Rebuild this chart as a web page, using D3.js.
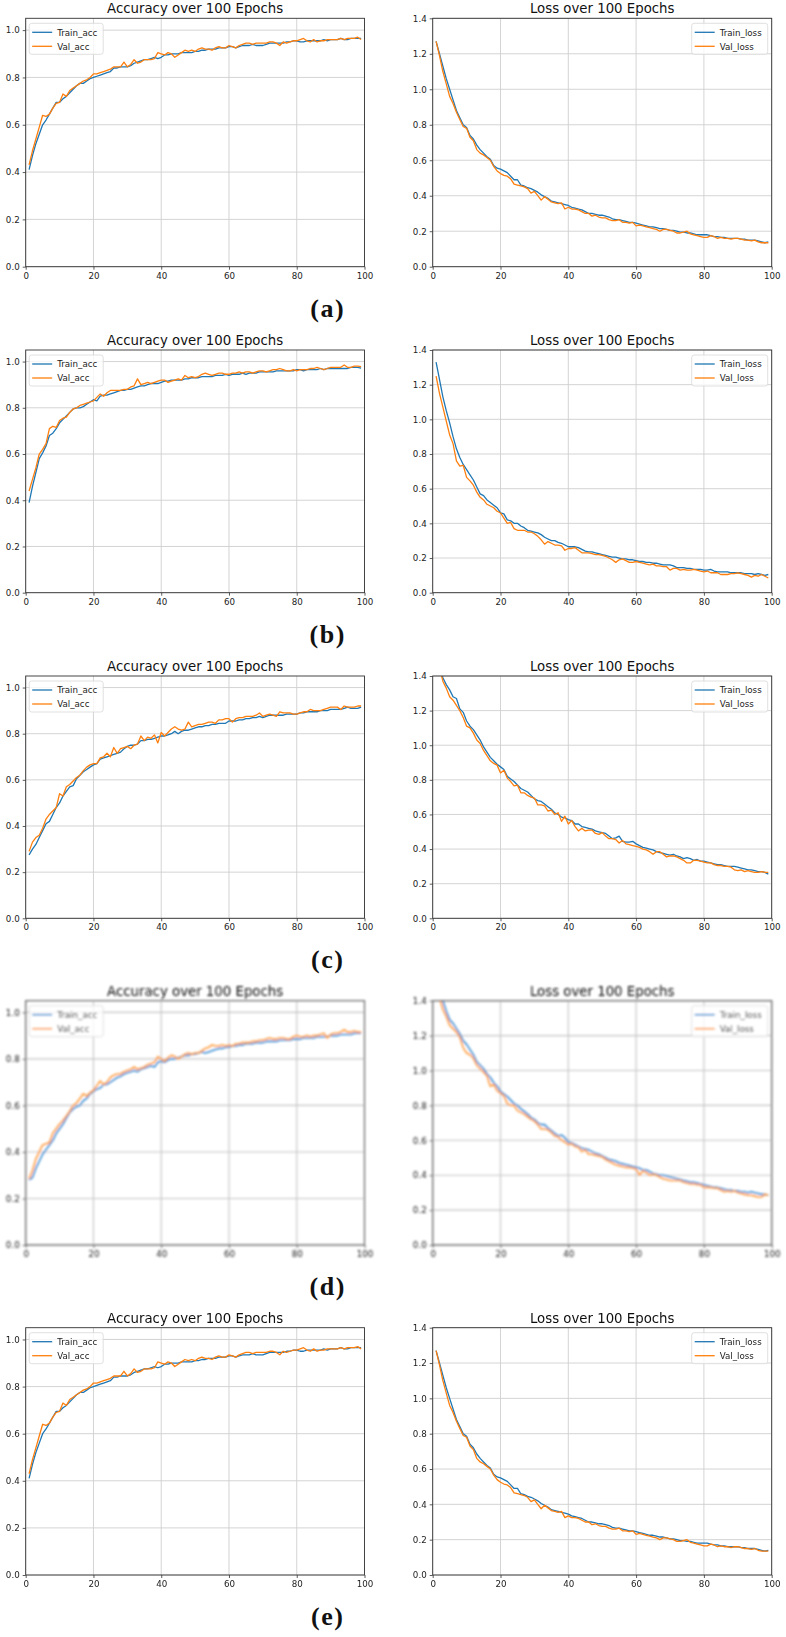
<!DOCTYPE html>
<html lang="en">
<head>
<meta charset="utf-8">
<title>Accuracy and Loss over 100 Epochs</title>
<script src="https://cdn.jsdelivr.net/npm/d3@7"></script>
<style>
  body { margin: 0; background: #fff; }
  svg { display: block; font-family: "DejaVu Sans", sans-serif; }
  .grid line { stroke: #cfcfcf; stroke-width: 0.9; }
  .axis .domain { display: none; }
  .axis .tick line { stroke: #333; stroke-width: 0.8; }
  .axis .tick text { fill: #222; font-size: 8.7px; font-family: "DejaVu Sans", sans-serif; }
  .spine { fill: none; stroke: #333; stroke-width: 0.9; }
  .soft .spine { stroke: #666; stroke-width: 1.2; }
  .soft .grid line { stroke: #c4c4c4; stroke-width: 1.1; }
  .title { font-size: 13.3px; fill: #111; text-anchor: middle; }
  .legend-box { fill: #fff; fill-opacity: 0.8; stroke: #d8d8d8; stroke-width: 0.8; }
  .legend text { font-size: 8.7px; fill: #222; }
  .tag { font-family: "Liberation Serif", "Times New Roman", serif; font-weight: bold; font-size: 26px; letter-spacing: 1.5px; fill: #111; text-anchor: middle; }
</style>
</head>
<body>
<div id="chart"></div>
<script>
// epochs on the x axis
var epochs = d3.range(1, 100);

var accTicks = [0.0, 0.2, 0.4, 0.6, 0.8, 1.0];
var lossTicks = [0.0, 0.2, 0.4, 0.6, 0.8, 1.0, 1.2, 1.4];
var epochTicks = [0, 20, 40, 60, 80, 100];

// (a) and (e)
var trainAccA = [0.41,0.47,0.52,0.56,0.60,0.62,0.645,0.67,0.695,0.695,
  0.71,0.72,0.735,0.75,0.765,0.775,0.775,0.785,0.795,0.80,
  0.805,0.81,0.815,0.82,0.825,0.84,0.84,0.845,0.845,0.845,
  0.85,0.86,0.865,0.87,0.875,0.875,0.88,0.885,0.88,0.885,
  0.895,0.895,0.90,0.90,0.90,0.905,0.905,0.905,0.905,0.91,
  0.91,0.915,0.915,0.92,0.92,0.92,0.925,0.925,0.925,0.93,
  0.93,0.925,0.93,0.935,0.935,0.935,0.94,0.935,0.935,0.935,
  0.94,0.945,0.945,0.945,0.945,0.945,0.95,0.95,0.955,0.955,
  0.95,0.95,0.955,0.955,0.955,0.955,0.955,0.96,0.955,0.96,
  0.96,0.96,0.965,0.96,0.96,0.965,0.965,0.965,0.965];
var valAccA = [0.43,0.49,0.54,0.59,0.64,0.635,0.645,0.67,0.69,0.695,
  0.73,0.72,0.745,0.755,0.765,0.775,0.785,0.79,0.80,0.815,
  0.815,0.82,0.825,0.83,0.835,0.845,0.845,0.845,0.865,0.845,
  0.855,0.875,0.86,0.865,0.875,0.875,0.875,0.88,0.905,0.90,
  0.895,0.905,0.90,0.885,0.895,0.905,0.915,0.91,0.915,0.91,
  0.92,0.925,0.92,0.92,0.915,0.925,0.93,0.925,0.925,0.935,
  0.93,0.925,0.935,0.94,0.945,0.945,0.94,0.945,0.945,0.945,
  0.945,0.95,0.95,0.945,0.935,0.95,0.945,0.95,0.955,0.955,
  0.96,0.965,0.955,0.95,0.96,0.95,0.955,0.955,0.96,0.96,
  0.96,0.96,0.965,0.96,0.965,0.965,0.965,0.97,0.96];
var trainLossA = [1.27,1.20,1.13,1.06,1.00,0.94,0.88,0.84,0.80,0.785,
  0.74,0.72,0.685,0.66,0.64,0.62,0.605,0.57,0.555,0.55,
  0.54,0.53,0.51,0.49,0.49,0.46,0.455,0.445,0.44,0.43,
  0.42,0.405,0.395,0.385,0.37,0.365,0.36,0.355,0.35,0.345,
  0.335,0.33,0.325,0.32,0.31,0.30,0.30,0.295,0.29,0.29,
  0.285,0.28,0.27,0.265,0.265,0.26,0.255,0.25,0.25,0.245,
  0.24,0.235,0.23,0.225,0.225,0.22,0.215,0.215,0.21,0.205,
  0.205,0.20,0.195,0.195,0.19,0.19,0.185,0.18,0.18,0.18,
  0.18,0.175,0.17,0.17,0.165,0.165,0.16,0.16,0.16,0.16,
  0.155,0.155,0.15,0.15,0.15,0.145,0.14,0.135,0.14];
var valLossA = [1.27,1.19,1.10,1.03,0.96,0.92,0.87,0.83,0.79,0.78,
  0.73,0.71,0.66,0.64,0.63,0.615,0.60,0.565,0.54,0.525,
  0.515,0.51,0.495,0.465,0.46,0.455,0.45,0.44,0.415,0.425,
  0.40,0.375,0.395,0.38,0.365,0.36,0.355,0.36,0.325,0.335,
  0.325,0.325,0.32,0.31,0.30,0.30,0.285,0.29,0.28,0.275,
  0.275,0.265,0.26,0.26,0.265,0.25,0.25,0.245,0.25,0.23,
  0.235,0.23,0.225,0.22,0.215,0.21,0.20,0.21,0.21,0.205,
  0.20,0.19,0.19,0.195,0.20,0.185,0.18,0.175,0.17,0.165,
  0.165,0.175,0.17,0.16,0.165,0.16,0.16,0.155,0.16,0.16,
  0.155,0.15,0.15,0.145,0.15,0.14,0.135,0.135,0.135];

// (b)
var trainAccB = [0.39,0.46,0.52,0.58,0.605,0.635,0.68,0.69,0.71,0.735,
  0.75,0.765,0.78,0.795,0.80,0.80,0.805,0.815,0.825,0.835,
  0.83,0.85,0.855,0.855,0.86,0.865,0.87,0.875,0.875,0.88,
  0.88,0.885,0.89,0.895,0.895,0.90,0.905,0.905,0.905,0.91,
  0.915,0.915,0.92,0.92,0.92,0.92,0.925,0.925,0.93,0.93,
  0.93,0.935,0.935,0.935,0.935,0.94,0.94,0.94,0.945,0.94,
  0.945,0.945,0.945,0.95,0.945,0.95,0.95,0.95,0.955,0.955,
  0.955,0.955,0.955,0.96,0.96,0.96,0.96,0.96,0.96,0.965,
  0.965,0.96,0.965,0.965,0.965,0.965,0.97,0.965,0.97,0.97,
  0.97,0.97,0.97,0.97,0.97,0.975,0.975,0.975,0.972];
var valAccB = [0.44,0.49,0.54,0.60,0.62,0.645,0.71,0.72,0.715,0.745,
  0.755,0.76,0.78,0.795,0.80,0.81,0.815,0.82,0.825,0.83,
  0.845,0.86,0.85,0.865,0.875,0.875,0.875,0.875,0.88,0.88,
  0.89,0.895,0.925,0.90,0.905,0.91,0.905,0.91,0.915,0.92,
  0.92,0.91,0.915,0.92,0.925,0.92,0.94,0.93,0.935,0.93,
  0.935,0.945,0.95,0.945,0.94,0.945,0.95,0.95,0.945,0.945,
  0.95,0.95,0.955,0.95,0.955,0.955,0.95,0.955,0.96,0.96,
  0.955,0.96,0.965,0.965,0.97,0.965,0.96,0.96,0.965,0.96,
  0.965,0.965,0.965,0.97,0.97,0.975,0.97,0.965,0.97,0.975,
  0.975,0.975,0.975,0.985,0.975,0.975,0.98,0.98,0.978];
var trainLossB = [1.33,1.23,1.13,1.05,0.98,0.90,0.83,0.78,0.74,0.71,
  0.68,0.65,0.61,0.57,0.56,0.535,0.52,0.505,0.49,0.46,
  0.455,0.42,0.415,0.40,0.40,0.385,0.375,0.36,0.355,0.35,
  0.345,0.335,0.32,0.31,0.30,0.30,0.29,0.285,0.275,0.265,
  0.265,0.265,0.26,0.25,0.24,0.235,0.235,0.23,0.225,0.22,
  0.215,0.21,0.205,0.205,0.20,0.195,0.195,0.19,0.19,0.185,
  0.18,0.18,0.175,0.175,0.17,0.17,0.165,0.16,0.16,0.16,
  0.155,0.145,0.145,0.145,0.14,0.14,0.135,0.135,0.135,0.13,
  0.13,0.135,0.125,0.12,0.12,0.12,0.12,0.115,0.115,0.115,
  0.115,0.11,0.11,0.11,0.105,0.11,0.105,0.10,0.105];
var valLossB = [1.25,1.15,1.07,0.99,0.91,0.86,0.76,0.73,0.735,0.665,
  0.645,0.62,0.58,0.55,0.535,0.51,0.50,0.49,0.47,0.46,
  0.43,0.40,0.405,0.37,0.36,0.36,0.36,0.35,0.35,0.34,
  0.325,0.305,0.28,0.295,0.285,0.275,0.275,0.27,0.245,0.255,
  0.255,0.26,0.245,0.23,0.23,0.23,0.225,0.22,0.22,0.215,
  0.21,0.20,0.19,0.175,0.19,0.195,0.185,0.175,0.175,0.18,
  0.175,0.17,0.165,0.16,0.165,0.155,0.155,0.15,0.15,0.13,
  0.14,0.14,0.13,0.135,0.13,0.13,0.135,0.13,0.125,0.12,
  0.125,0.115,0.115,0.115,0.105,0.105,0.105,0.11,0.11,0.115,
  0.11,0.105,0.10,0.09,0.10,0.095,0.105,0.095,0.085];

// (c)
var trainAccC = [0.275,0.30,0.32,0.35,0.38,0.41,0.42,0.45,0.48,0.50,
  0.53,0.55,0.57,0.575,0.605,0.62,0.635,0.645,0.655,0.665,
  0.67,0.69,0.695,0.70,0.705,0.71,0.715,0.72,0.735,0.745,
  0.75,0.75,0.755,0.77,0.77,0.775,0.775,0.78,0.785,0.79,
  0.79,0.795,0.80,0.81,0.80,0.81,0.815,0.815,0.82,0.825,
  0.83,0.83,0.835,0.835,0.84,0.84,0.845,0.845,0.845,0.855,
  0.855,0.855,0.86,0.86,0.865,0.865,0.87,0.87,0.875,0.87,
  0.875,0.88,0.88,0.88,0.88,0.88,0.885,0.885,0.885,0.885,
  0.89,0.89,0.895,0.895,0.895,0.895,0.90,0.90,0.90,0.905,
  0.905,0.905,0.905,0.91,0.915,0.91,0.91,0.91,0.915];
var valAccC = [0.29,0.33,0.35,0.36,0.39,0.43,0.45,0.465,0.48,0.54,
  0.53,0.57,0.58,0.595,0.61,0.62,0.64,0.655,0.665,0.67,
  0.67,0.695,0.70,0.715,0.70,0.74,0.715,0.735,0.74,0.745,
  0.735,0.75,0.755,0.79,0.77,0.785,0.78,0.795,0.76,0.805,
  0.79,0.805,0.82,0.83,0.82,0.815,0.82,0.85,0.83,0.835,
  0.84,0.84,0.845,0.85,0.85,0.845,0.86,0.86,0.865,0.865,
  0.85,0.865,0.87,0.87,0.875,0.875,0.875,0.88,0.89,0.875,
  0.88,0.885,0.88,0.875,0.895,0.89,0.89,0.89,0.885,0.885,
  0.89,0.895,0.895,0.905,0.90,0.90,0.90,0.905,0.91,0.915,
  0.915,0.915,0.905,0.92,0.915,0.915,0.915,0.92,0.92];
var trainLossC = [1.56,1.47,1.39,1.35,1.32,1.28,1.27,1.21,1.19,1.14,
  1.11,1.09,1.06,1.03,0.99,0.96,0.93,0.91,0.89,0.875,
  0.86,0.82,0.805,0.79,0.77,0.75,0.74,0.73,0.71,0.69,
  0.68,0.675,0.66,0.645,0.63,0.61,0.60,0.585,0.58,0.57,
  0.565,0.545,0.545,0.53,0.525,0.52,0.515,0.505,0.50,0.495,
  0.49,0.475,0.46,0.465,0.475,0.445,0.44,0.44,0.445,0.43,
  0.42,0.41,0.405,0.40,0.395,0.385,0.38,0.375,0.37,0.365,
  0.37,0.36,0.355,0.345,0.35,0.345,0.335,0.34,0.33,0.33,
  0.325,0.32,0.315,0.31,0.31,0.305,0.30,0.30,0.30,0.295,
  0.29,0.285,0.28,0.28,0.275,0.27,0.27,0.265,0.255];
var valLossC = [1.53,1.45,1.37,1.33,1.28,1.26,1.23,1.20,1.16,1.11,
  1.10,1.07,1.03,1.01,0.97,0.94,0.91,0.895,0.885,0.84,
  0.855,0.81,0.79,0.765,0.77,0.725,0.725,0.71,0.70,0.695,
  0.655,0.655,0.65,0.62,0.625,0.60,0.61,0.56,0.59,0.545,
  0.565,0.53,0.505,0.52,0.505,0.51,0.51,0.49,0.485,0.495,
  0.475,0.46,0.46,0.455,0.435,0.45,0.43,0.425,0.42,0.415,
  0.41,0.40,0.395,0.385,0.37,0.385,0.385,0.37,0.355,0.36,
  0.36,0.355,0.345,0.335,0.32,0.32,0.335,0.335,0.33,0.325,
  0.32,0.32,0.31,0.305,0.305,0.30,0.30,0.295,0.28,0.275,
  0.28,0.27,0.275,0.27,0.265,0.265,0.27,0.265,0.265];

// (d)
var trainAccD = [0.28,0.29,0.33,0.36,0.39,0.41,0.43,0.45,0.48,0.50,
  0.52,0.545,0.57,0.585,0.595,0.60,0.62,0.63,0.65,0.66,
  0.67,0.675,0.69,0.69,0.70,0.71,0.72,0.725,0.735,0.74,
  0.745,0.75,0.745,0.755,0.76,0.765,0.77,0.765,0.785,0.79,
  0.785,0.795,0.80,0.80,0.805,0.81,0.815,0.815,0.82,0.82,
  0.825,0.83,0.825,0.83,0.835,0.84,0.845,0.845,0.85,0.85,
  0.855,0.855,0.86,0.86,0.865,0.865,0.865,0.87,0.87,0.87,
  0.875,0.875,0.875,0.875,0.88,0.88,0.88,0.88,0.885,0.885,
  0.885,0.89,0.89,0.89,0.89,0.895,0.895,0.895,0.895,0.90,
  0.90,0.90,0.905,0.905,0.905,0.905,0.91,0.91,0.91];
var valAccD = [0.285,0.32,0.37,0.40,0.43,0.435,0.44,0.48,0.50,0.52,
  0.535,0.555,0.575,0.60,0.61,0.63,0.65,0.64,0.655,0.665,
  0.685,0.705,0.69,0.70,0.72,0.73,0.735,0.735,0.745,0.75,
  0.755,0.765,0.755,0.76,0.765,0.775,0.78,0.785,0.81,0.80,
  0.79,0.805,0.815,0.81,0.80,0.81,0.82,0.825,0.82,0.825,
  0.825,0.835,0.845,0.85,0.86,0.855,0.855,0.86,0.855,0.86,
  0.855,0.865,0.865,0.87,0.87,0.87,0.875,0.875,0.88,0.88,
  0.885,0.89,0.885,0.885,0.89,0.89,0.885,0.885,0.895,0.90,
  0.895,0.895,0.90,0.895,0.90,0.90,0.905,0.91,0.89,0.905,
  0.91,0.91,0.915,0.925,0.915,0.915,0.92,0.915,0.915];
var trainLossD = [1.55,1.47,1.40,1.34,1.29,1.27,1.24,1.21,1.17,1.15,
  1.12,1.09,1.05,1.03,1.01,0.98,0.96,0.93,0.91,0.88,
  0.865,0.85,0.83,0.81,0.80,0.78,0.765,0.75,0.73,0.72,
  0.70,0.69,0.69,0.67,0.655,0.64,0.625,0.63,0.615,0.59,
  0.585,0.575,0.565,0.555,0.55,0.545,0.535,0.525,0.52,0.51,
  0.50,0.49,0.485,0.48,0.47,0.465,0.46,0.455,0.45,0.445,
  0.44,0.43,0.43,0.42,0.41,0.405,0.40,0.40,0.395,0.39,
  0.385,0.38,0.375,0.37,0.365,0.36,0.36,0.355,0.35,0.345,
  0.34,0.335,0.33,0.33,0.325,0.32,0.315,0.315,0.31,0.31,
  0.305,0.305,0.30,0.305,0.30,0.295,0.29,0.29,0.285];
var valLossD = [1.50,1.42,1.35,1.31,1.26,1.24,1.22,1.19,1.13,1.10,
  1.09,1.07,1.03,1.01,0.99,0.97,0.91,0.92,0.885,0.87,
  0.855,0.81,0.80,0.80,0.77,0.76,0.75,0.735,0.72,0.71,
  0.69,0.665,0.665,0.66,0.645,0.625,0.62,0.60,0.59,0.575,
  0.58,0.565,0.56,0.535,0.545,0.52,0.52,0.515,0.51,0.505,
  0.49,0.48,0.47,0.46,0.455,0.45,0.445,0.445,0.44,0.435,
  0.40,0.425,0.415,0.40,0.405,0.40,0.39,0.38,0.375,0.37,
  0.37,0.37,0.37,0.36,0.355,0.35,0.35,0.345,0.345,0.33,
  0.33,0.33,0.325,0.325,0.315,0.305,0.31,0.305,0.31,0.30,
  0.295,0.29,0.285,0.285,0.28,0.275,0.275,0.29,0.285];

var rows = [
  { tag: "(a)", acc: [trainAccA, valAccA], loss: [trainLossA, valLossA] },
  { tag: "(b)", acc: [trainAccB, valAccB], loss: [trainLossB, valLossB] },
  { tag: "(c)", acc: [trainAccC, valAccC], loss: [trainLossC, valLossC] },
  { tag: "(d)", acc: [trainAccD, valAccD], loss: [trainLossD, valLossD], blur: 0.85, soft: true },
  { tag: "(e)", acc: [trainAccA, valAccA], loss: [trainLossA, valLossA], blur: 0.35 }
];

// layout
var width = 786, height = 1637;
var plotTops = [18.3, 350, 676, 1000.7, 1327.7];
var plotH = [248.4, 242.7, 242.3, 244.3, 247.3];
var leftX = [25.7, 364.5];
var rightX = [432.7, 771.7];

var svg = d3.select("#chart").append("svg")
  .attr("width", width)
  .attr("height", height);

var defs = svg.append("defs");

function drawPanel(g, id, x0, x1, top, h, series, yMax, ticks, title, names, legendRight, soft) {
  var colors = soft ? ["#3a8ed2", "#ff9b3d"] : ["#1f77b4", "#ff7f0e"];
  var lineW = soft ? 1.6 : 1.3;

  var x = d3.scaleLinear().domain([0, 100]).range([x0, x1]);
  var y = d3.scaleLinear().domain([0, yMax]).range([top + h, top]);

  defs.append("clipPath").attr("id", id)
    .append("rect")
    .attr("x", x0).attr("y", top)
    .attr("width", x1 - x0).attr("height", h);

  // grid
  var grid = g.append("g").attr("class", "grid");
  grid.selectAll(".gx").data(epochTicks).join("line")
    .attr("x1", d => x(d)).attr("x2", d => x(d))
    .attr("y1", top).attr("y2", top + h);
  grid.selectAll(".gy").data(ticks).join("line")
    .attr("x1", x0).attr("x2", x1)
    .attr("y1", d => y(d)).attr("y2", d => y(d));

  // curves
  var line = d3.line()
    .x((d, i) => x(epochs[i]))
    .y(d => y(d));

  g.append("g").attr("clip-path", "url(#" + id + ")")
    .selectAll("path").data(series).join("path")
    .attr("d", line)
    .attr("fill", "none")
    .attr("stroke", (d, i) => colors[i])
    .attr("stroke-width", lineW)
    .attr("stroke-linejoin", "round");

  // axes
  g.append("g").attr("class", "axis")
    .attr("transform", "translate(0," + (top + h) + ")")
    .call(d3.axisBottom(x).tickValues(epochTicks).tickSize(3).tickPadding(3));
  g.append("g").attr("class", "axis")
    .attr("transform", "translate(" + x0 + ",0)")
    .call(d3.axisLeft(y).tickValues(ticks).tickFormat(d3.format(".1f")).tickSize(3).tickPadding(3));

  g.append("rect").attr("class", "spine")
    .attr("x", x0).attr("y", top)
    .attr("width", x1 - x0).attr("height", h);

  g.append("text").attr("class", "title")
    .attr("x", (x0 + x1) / 2)
    .attr("y", top - 5)
    .text(title);

  // legend
  var lw = legendRight ? 76 : 74;
  var lx = legendRight ? x1 - 4 - lw : x0 + 3.5;
  var leg = g.append("g").attr("class", "legend")
    .attr("transform", "translate(" + lx + "," + (top + 5) + ")");
  leg.append("rect").attr("class", "legend-box")
    .attr("width", lw).attr("height", 31).attr("rx", 2.5);
  var item = leg.selectAll(".item").data(names).join("g")
    .attr("transform", (d, i) => "translate(0," + (9 + i * 14) + ")");
  item.append("line")
    .attr("x1", 3).attr("x2", 23)
    .attr("stroke", (d, i) => colors[i])
    .attr("stroke-width", lineW);
  item.append("text")
    .attr("x", 28).attr("y", 3.2)
    .text(d => d);
}

rows.forEach(function (r, i) {
  var g = svg.append("g").attr("class", r.soft ? "soft" : null);
  if (r.blur) {
    defs.append("filter").attr("id", "blur" + i)
      .attr("x", "-5%").attr("y", "-5%").attr("width", "110%").attr("height", "110%")
      .append("feGaussianBlur").attr("stdDeviation", r.blur);
    g.attr("filter", "url(#blur" + i + ")");
  }
  var top = plotTops[i], h = plotH[i];
  drawPanel(g, "clipA" + i, leftX[0], leftX[1], top, h, r.acc, 1.05, accTicks,
    "Accuracy over 100 Epochs", ["Train_acc", "Val_acc"], false, r.soft);
  drawPanel(g, "clipL" + i, rightX[0], rightX[1], top, h, r.loss, 1.4, lossTicks,
    "Loss over 100 Epochs", ["Train_loss", "Val_loss"], true, r.soft);

  svg.append("text").attr("class", "tag")
    .attr("x", 327.7)
    .attr("y", top + h + 50)
    .text(r.tag);
});
</script>
</body>
</html>
